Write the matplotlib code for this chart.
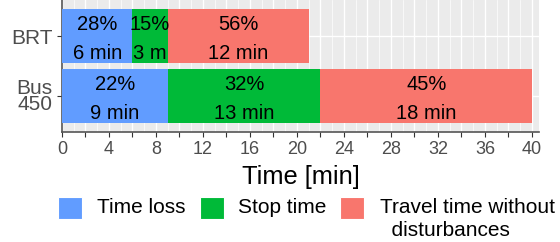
import matplotlib
matplotlib.use("Agg")
import matplotlib.pyplot as plt
from matplotlib.patches import Rectangle
import numpy as np

plt.rcParams["font.family"] = ["Liberation Sans", "DejaVu Sans"]

# data
routes = ["Bus\n450", "BRT"]
components = ["Time loss", "Stop time", "Travel time without\n  disturbances"]
minutes = {
    "Time loss": [9, 6],
    "Stop time": [13, 3],
    "Travel time without\n  disturbances": [18, 12],
}
pct_labels = {
    "Time loss": ["22%", "28%"],
    "Stop time": ["32%", "15%"],
    "Travel time without\n  disturbances": ["45%", "56%"],
}
min_labels = {
    "Time loss": ["9 min", "6 min"],
    "Stop time": ["13 min", "3 m"],
    "Travel time without\n  disturbances": ["18 min", "12 min"],
}
colors = ["#619CFF", "#00BA38", "#F8766D"]
xticks = np.arange(0, 41, 4)

W, H = 560, 242
fig = plt.figure(figsize=(W / 100, H / 100), dpi=100)
ax = fig.add_axes([62 / W, 1 - 132 / H, (539 - 62) / W, 132 / H])
ax.set_facecolor("#EBEBEB")

ypos = np.arange(len(routes))
left = np.zeros(len(routes))
for comp, col in zip(components, colors):
    vals = np.array(minutes[comp], dtype=float)
    ax.barh(ypos, vals, left=left, height=0.9, color=col, zorder=3)
    for i, v in enumerate(vals):
        cx = left[i] + v / 2
        ax.text(cx, ypos[i] + 0.1, pct_labels[comp][i], ha="center", va="baseline",
                fontsize=14.5, color="black", zorder=4)
        ax.text(cx, ypos[i] - 0.39, min_labels[comp][i], ha="center", va="baseline",
                fontsize=14.5, color="black", zorder=4)
    left += vals

ax.set_xlim(0, 40.6)
ax.set_ylim(-0.6, 1.6)
ax.set_yticks(ypos)
ax.set_yticklabels(routes, fontsize=15, color="#4D4D4D", linespacing=0.8)
ax.set_xticks(xticks)
ax.set_xticks(np.arange(2, 41, 4), minor=True)
ax.set_xticklabels([str(t) for t in xticks], fontsize=13, color="#4D4D4D")
ax.tick_params(axis="both", which="both", length=3.5, color="#333333", width=0.8)
ax.tick_params(axis="x", pad=3)
ax.tick_params(axis="y", pad=3.5)

for x in np.arange(0, 41, 1):
    lw = 1.0 if x % 2 == 0 else 0.5
    ax.axvline(x, color="white", lw=lw, zorder=1)
for y in ypos:
    ax.axhline(y, color="white", lw=1.0, zorder=1)

for s in ["top", "right"]:
    ax.spines[s].set_visible(False)
for s in ["left", "bottom"]:
    ax.spines[s].set_color("#555555")
    ax.spines[s].set_linewidth(1.2)

ax.set_xlabel("Time [min]", fontsize=18.3, color="black", labelpad=5)

# legend drawn by hand
def px(x, y):
    return x / W, 1 - y / H

key_x = [58, 200, 340]
text_x = [97, 238, 380]
for comp, col, kx, tx in zip(components, colors, key_x, text_x):
    x0, y0 = px(kx, 219)
    fig.patches.append(Rectangle((x0, y0), 24 / W, 22 / H, transform=fig.transFigure,
                                 facecolor=col, edgecolor="white", lw=0.8))
    for j, line in enumerate(comp.split("\n")):
        tx0, ty0 = px(tx, 213 + 23 * j)
        fig.text(tx0, ty0, line, ha="left", va="baseline", fontsize=15, color="black")

fig.savefig("out.png", dpi=100)
